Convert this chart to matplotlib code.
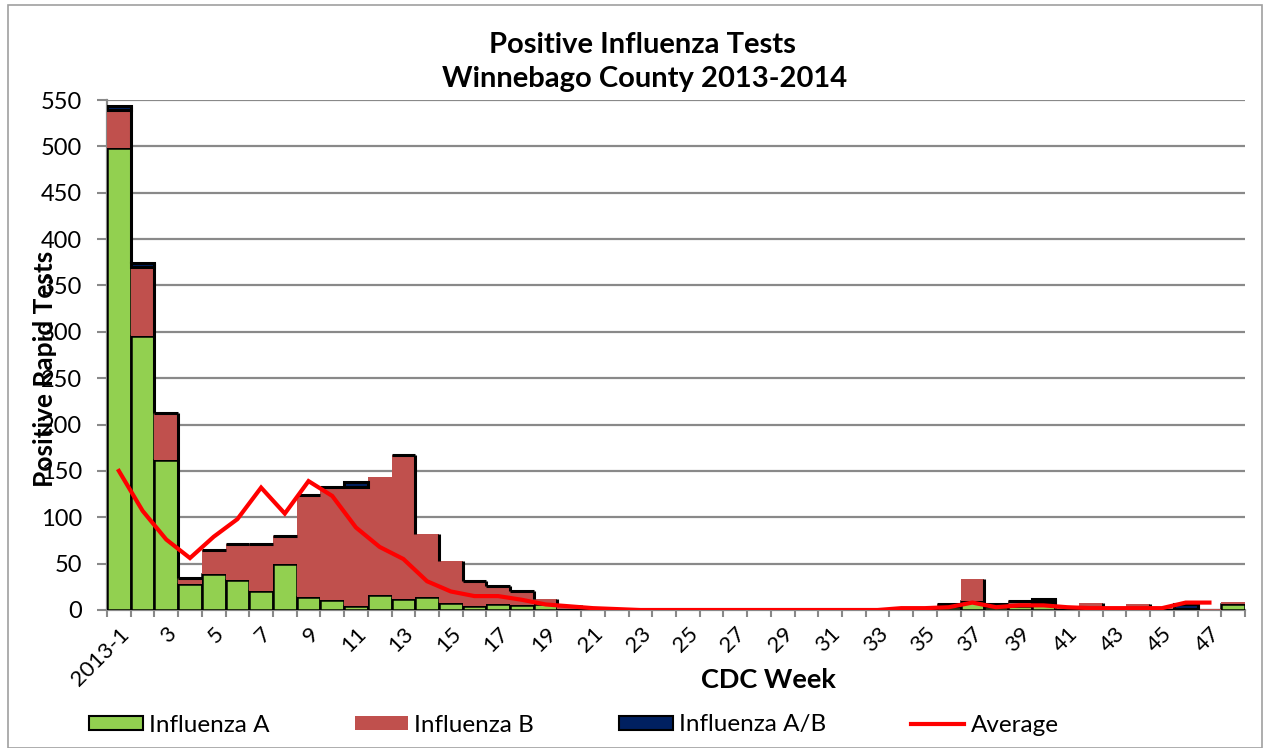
import numpy as np
import matplotlib
matplotlib.use("Agg")
import matplotlib.pyplot as plt
from matplotlib.patches import Rectangle, Patch
from matplotlib.lines import Line2D

plt.rcParams['font.family'] = ['Lato', 'DejaVu Sans']

weeks = ["2013-1"] + [str(i) for i in range(2, 49)]

flu_a = [498, 295, 162, 28, 39, 32, 21, 50, 14, 11, 4, 16, 12, 14, 8, 4, 7, 5, 6, 1,
         1, 0, 0, 0, 0, 0, 0, 0, 0, 0, 0, 0, 0, 0, 1, 3, 10, 3, 4, 5,
         1, 2, 1, 1, 1, 1, 0, 7]
flu_b = [41, 75, 50, 7, 26, 39, 50, 30, 110, 122, 129, 127, 155, 68, 45, 27, 19, 16, 6, 4,
         1, 0, 0, 0, 0, 0, 0, 0, 0, 0, 0, 0, 0, 0, 1, 4, 23, 4, 6, 4,
         1, 6, 1, 5, 1, 0, 1, 2]
# None = no bar drawn
flu_ab = [4, 4, 0, 0, 0, 0, 0, 0, 0, 0, 5, None, 0, None, None, 0, 0, 0, None, None,
          None, None, None, None, None, None, None, None, None, None, None, None, None, None, None, 0, None, 0, 0, 3,
          None, None, None, None, None, 5, None, None]
average = [150, 107, 76, 56, 79, 98, 132, 104, 139, 123, 89, 68, 55, 31, 20, 15, 15, 11, 6, 4,
           2, 1, 0, 0, 0, 0, 0, 0, 0, 0, 0, 0, 0, 2, 2, 3, 8, 3, 5, 5,
           3, 2, 2, 2, 2, 8, 8]

GREEN = "#92D050"
RED = "#C0504D"
NAVY = "#002060"
LINE = "#FF0000"
GRID = "#898989"

W, H = 1270, 748
fig = plt.figure(figsize=(W / 100, H / 100), dpi=100)
ax = fig.add_axes([107 / W, 1 - 610 / H, (1245 - 107) / W, (610 - 100) / H])

x = np.arange(len(weeks))
a = np.array(flu_a, dtype=float)
b = np.array(flu_b, dtype=float)
ab_full = np.array([0 if v is None else v for v in flu_ab], dtype=float)
total = a + b + ab_full

ax.bar(x, a, width=1.0, color=GREEN, edgecolor="black", linewidth=1.8, zorder=3)
ax.bar(x, b, width=1.0, bottom=a, color=RED, edgecolor="none", linewidth=0, zorder=3)
ab_idx = [i for i, v in enumerate(flu_ab) if v is not None]
ab_val = [flu_ab[i] for i in ab_idx]
ax.bar(np.array(ab_idx), ab_val, width=1.0, bottom=(a + b)[ab_idx], color=NAVY,
       edgecolor="black", linewidth=2.2, zorder=4)

# dark edge on the right side where the stack steps down
drops = [i for i in range(len(weeks) - 1) if total[i] > total[i + 1] + 2]
ax.vlines(np.array(drops) + 0.5, total[np.array(drops) + 1], total[drops],
          colors="black", linewidth=2.2, zorder=4)

ax.plot(np.arange(len(average)), average, color=LINE, linewidth=3, zorder=5,
        solid_joinstyle="miter")

ax.set_xlim(-0.5, len(weeks) - 0.5)
ax.set_ylim(0, 550)
ax.set_yticks(np.arange(0, 551, 50))
ax.yaxis.grid(True, color=GRID, linewidth=1.6, zorder=0)
ax.set_axisbelow(True)

ax.set_xticks(x[::2])
ax.set_xticklabels(weeks[::2], rotation=45, ha="right", rotation_mode="anchor",
                   fontsize=16)
ax.set_xticks(np.arange(-0.5, len(weeks), 1.0), minor=True)
ax.tick_params(axis="x", which="major", length=0, pad=10)
ax.tick_params(axis="x", which="minor", length=5, color=GRID, width=1.5)
ax.tick_params(axis="y", length=7, color=GRID, width=1.5, labelsize=17, pad=11)

for s in ["top", "right"]:
    ax.spines[s].set_visible(False)
for s in ["left", "bottom"]:
    ax.spines[s].set_color(GRID)
    ax.spines[s].set_linewidth(1.6)

ax.set_ylabel("Positive Rapid Tests", fontsize=19, fontweight="bold", va="center")
ax.set_xlabel("CDC Week", fontsize=19.5, fontweight="bold", va="center")
ax.xaxis.set_label_coords((768 - 107) / (1245 - 107), -(680 - 610) / (610 - 100), transform=ax.transAxes)
ax.yaxis.set_label_coords(-(107 - 45) / (1245 - 107), (610 - 369) / (610 - 100), transform=ax.transAxes)

fig.text(642 / W, 1 - 53 / H, "Positive Influenza Tests", ha="center", va="baseline",
         fontsize=21, fontweight="bold")
fig.text(645 / W, 1 - 87 / H, "Winnebago County 2013-2014", ha="center", va="baseline",
         fontsize=21, fontweight="bold")

handles = [Patch(facecolor=GREEN, edgecolor="black", linewidth=1.5),
           Patch(facecolor=RED, edgecolor="none"),
           Patch(facecolor=NAVY, edgecolor="black", linewidth=1.5),
           Line2D([0], [0], color=LINE, linewidth=3)]
labels = ["Influenza A", "Influenza B", "Influenza A/B", "Average"]
fig.legend(handles, labels, loc="center", bbox_to_anchor=(574 / W, 1 - 725 / H), ncol=4,
           frameon=False, fontsize=17.5, handlelength=2.2, handleheight=0.55,
           columnspacing=3.5, handletextpad=0.25, borderpad=0, borderaxespad=0)

fig.patches.append(Rectangle((8 / W, 0), (1262 - 8) / W, 1 - 5 / H, transform=fig.transFigure,
                             fill=False, edgecolor="#A0A0A0", linewidth=1.2))

fig.savefig("out.png", dpi=100)
